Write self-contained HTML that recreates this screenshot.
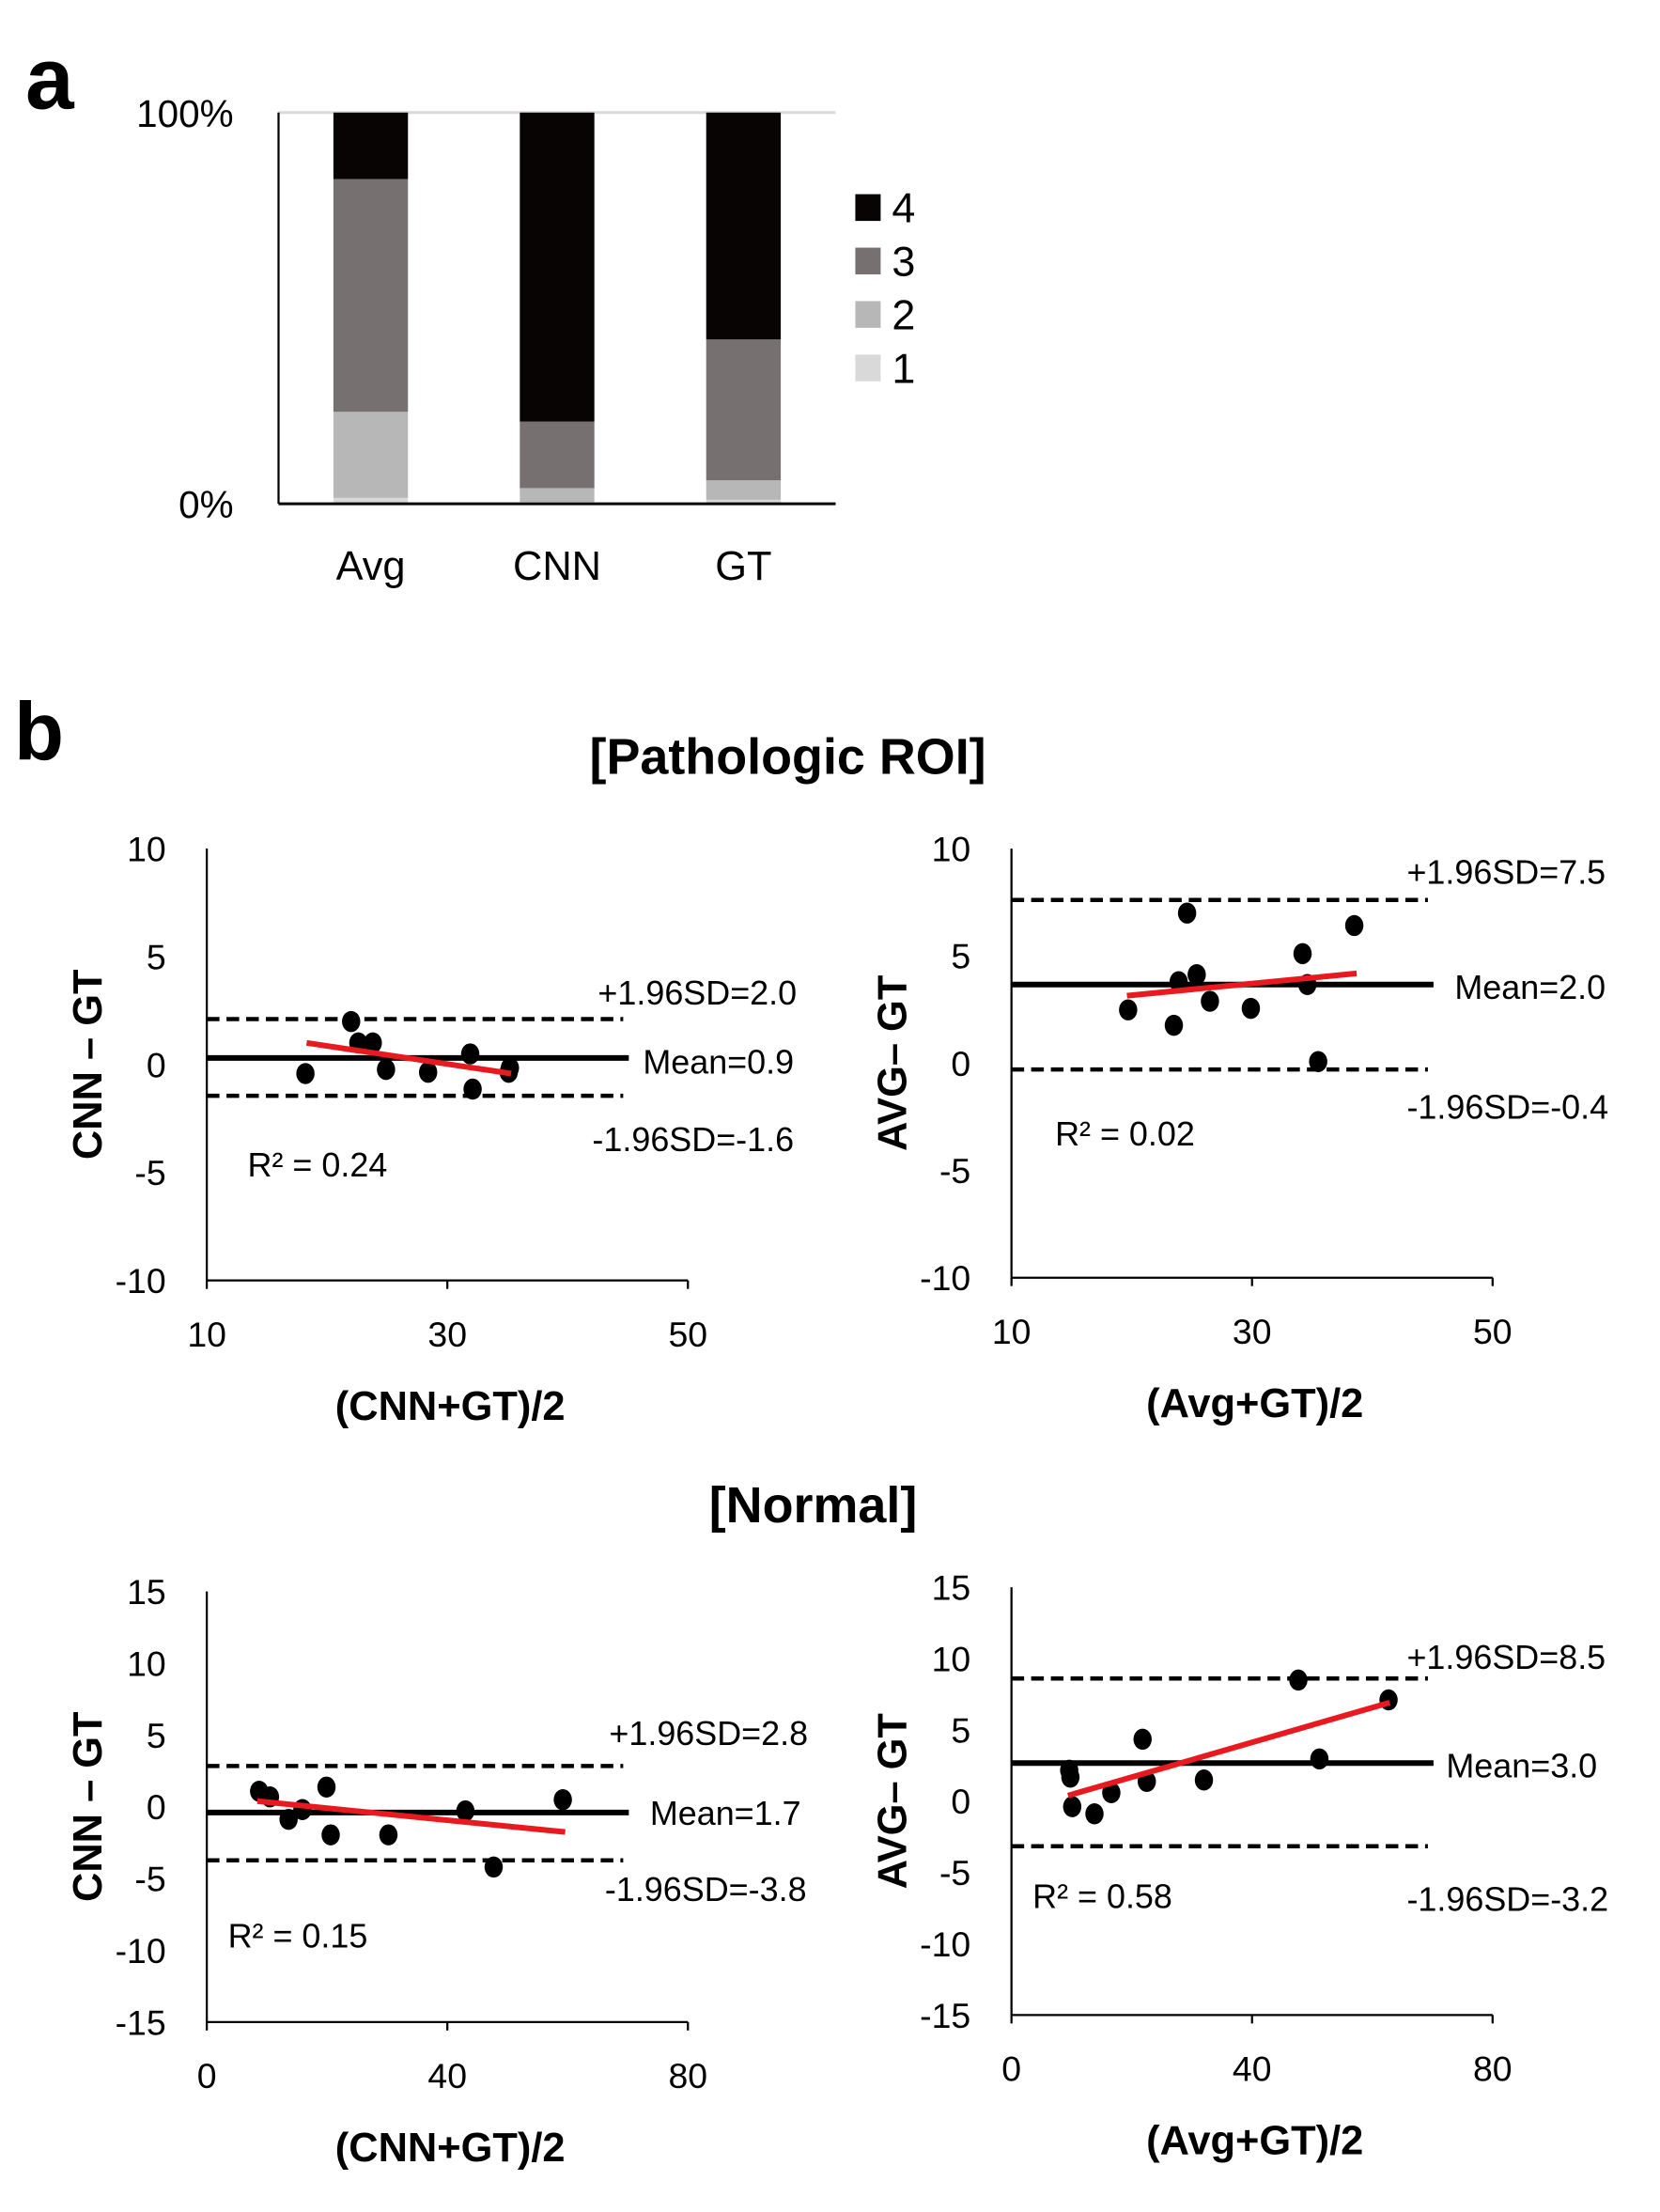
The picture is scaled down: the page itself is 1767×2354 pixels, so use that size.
<!DOCTYPE html>
<html><head><meta charset="utf-8"><style>
html,body{margin:0;padding:0;background:#fff;}
svg{display:block;font-family:"Liberation Sans",sans-serif;}
</style></head><body>
<svg id="fig" width="1767" height="2354" viewBox="0 0 1180 1572" xmlns="http://www.w3.org/2000/svg">
<text x="18" y="77" font-size="62" font-weight="bold">a</text>
<text x="10" y="540" font-size="58" font-weight="bold">b</text>
<text x="560" y="550" font-size="36" font-weight="bold" text-anchor="middle">[Pathologic ROI]</text>
<text x="578" y="1082" font-size="36" font-weight="bold" text-anchor="middle">[Normal]</text>
<g id="bar"></g>
<g id="p1"></g><g id="p2"></g><g id="p3"></g><g id="p4"></g>
</svg>
<script>
// ---- Panel a data ----
const barCategories = ['Avg','CNN','GT'];
const grade1 = [1.5, 0.5, 1];
const grade2 = [22, 3.5, 5];
const grade3 = [59.5, 17, 36];
const grade4 = [17, 79, 58];
const legendLabels = ['4','3','2','1'];

// ---- Panel b data ----
const p1X = [18.2,22.0,22.6,23.8,24.9,28.4,31.9,32.1,35.1,35.2];
const p1Y = [-0.42,1.99,1.0,1.0,-0.23,-0.36,0.49,-1.14,-0.36,-0.16];
const p1Lines = [0.3, 2.1, -1.45];
const p1Fit = [18.3,1.0,35.3,-0.42];
const p1Labels = ['+1.96SD=2.0','Mean=0.9','-1.96SD=-1.6','R² = 0.24'];

const p2X = [19.7,23.5,23.9,24.6,25.4,26.5,29.9,34.2,34.6,35.5,38.5];
const p2Y = [2.48,1.76,3.79,6.99,4.12,2.88,2.55,5.10,3.66,0.07,6.41];
const p2Lines = [3.66, 7.6, -0.3];
const p2Fit = [19.6,3.14,38.7,4.18];
const p2Labels = ['+1.96SD=7.5','Mean=2.0','-1.96SD=-0.4','R² = 0.02'];

const p3X = [8.7,10.5,13.6,15.9,19.9,20.6,30.2,43.0,47.7,59.2];
const p3Y = [1.08,0.69,-0.88,-0.2,1.37,-1.96,-1.96,-0.29,-4.2,0.49];
const p3Lines = [-0.4, 2.84, -3.73];
const p3Fit = [8.4,0.39,59.6,-1.76];
const p3Labels = ['+1.96SD=2.8','Mean=1.7','-1.96SD=-3.8','R² = 0.15'];

const p4X = [9.6,9.8,10.1,13.8,16.6,21.8,22.5,32.0,47.7,51.2,62.7];
const p4Y = [2.17,1.68,-0.39,-0.89,0.59,4.34,1.38,1.48,8.49,2.96,7.1];
const p4Lines = [2.67, 8.6, -3.16];
const p4Fit = [9.4,0.39,62.9,6.91];
const p4Labels = ['+1.96SD=8.5','Mean=3.0','-1.96SD=-3.2','R² = 0.58'];

const NS='http://www.w3.org/2000/svg';
function mk(parent,tag,attrs,txt){const e=document.createElementNS(NS,tag);for(const k in attrs)e.setAttribute(k,attrs[k]);if(txt!==undefined)e.textContent=txt;parent.appendChild(e);return e;}

// ---- draw bar chart ----
(function(){
  const g=document.getElementById('bar');
  const top=80,bot=358,left=198,right=594;
  const yS=v=>bot-(v/100)*(bot-top);
  const centers=[263.5,396,528.5], bw=53;
  const colors=['#d9d9d9','#b7b7b7','#767170','#070403'];
  const series=[grade1,grade2,grade3,grade4];
  let l=mk(g,'line',{x1:left,y1:top,x2:right,y2:top,stroke:'#d9d9d9','stroke-width':2});
  
  
  barCategories.forEach((c,i)=>{
    let cum=0;
    series.forEach((s,k)=>{
      const y0=yS(cum),y1=yS(cum+s[i]);cum+=s[i];
      const r=mk(g,'rect',{x:centers[i]-bw/2,y:y1,width:bw,height:y0-y1,fill:colors[k]});
      
      
    });
    const t=mk(g,'text',{x:centers[i],y:412,'font-size':29,'text-anchor':'middle'},c);
    
    
  });
  l=mk(g,'line',{x1:left,y1:top,x2:left,y2:bot,stroke:'#000','stroke-width':1.5});
  
  
  l=mk(g,'line',{x1:left,y1:bot,x2:right,y2:bot,stroke:'#000','stroke-width':2});
  
  
  let t=mk(g,'text',{x:166,y:90,'font-size':27,'text-anchor':'end'},'100%');
  
  
  t=mk(g,'text',{x:166,y:368,'font-size':27,'text-anchor':'end'},'0%');
  
  
  const lc=['#070403','#767170','#b7b7b7','#d9d9d9'];
  legendLabels.forEach((lab,i)=>{
    const y=138+i*38;
    const r=mk(g,'rect',{x:608,y:y,width:18,height:19,fill:lc[i]});
    
    
    const tt=mk(g,'text',{x:634,y:y+20,'font-size':30},lab);
    
    
  });
})();

// ---- Bland-Altman panels ----
function panel(id,cfg,xs,ys,lines,fit,labels){
  const g=document.getElementById(id);
  const {ax,top,bot,right,xmin,xmax,ymin,ymax,yticks,xticks,lineEnd,yTitle,xTitle,lab}=cfg;
  const X=v=>ax+(v-xmin)/(xmax-xmin)*(right-ax);
  const Y=v=>bot-(v-ymin)/(ymax-ymin)*(bot-top);
  let e=mk(g,'line',{x1:ax,y1:top,x2:ax,y2:bot,stroke:'#000','stroke-width':1.5});
  
  
  e=mk(g,'line',{x1:ax,y1:bot,x2:right,y2:bot,stroke:'#000','stroke-width':1.5});
  
  
  yticks.forEach(v=>{
    const t=mk(g,'text',{x:ax-29,y:Y(v)+9,'font-size':25,'text-anchor':'end'},String(v));
    
    
  });
  xticks.forEach(v=>{
    const tk=mk(g,'line',{x1:X(v),y1:bot,x2:X(v),y2:bot+6,stroke:'#000','stroke-width':1.5});
    
    
    const t=mk(g,'text',{x:X(v),y:bot+47,'font-size':25,'text-anchor':'middle'},String(v));
    
    
  });
  e=mk(g,'line',{x1:ax,y1:Y(lines[0]),x2:lineEnd+4,y2:Y(lines[0]),stroke:'#000','stroke-width':4});
  
  
  e=mk(g,'line',{x1:ax,y1:Y(lines[1]),x2:lineEnd,y2:Y(lines[1]),stroke:'#000','stroke-width':3,'stroke-dasharray':'9 5'});
  
  
  e=mk(g,'line',{x1:ax,y1:Y(lines[2]),x2:lineEnd,y2:Y(lines[2]),stroke:'#000','stroke-width':3,'stroke-dasharray':'9 5'});
  
  
  xs.forEach((x,i)=>{
    const c=mk(g,'ellipse',{cx:X(x),cy:Y(ys[i]),rx:6.5,ry:7.5,fill:'#000'});
    
    
  });
  e=mk(g,'line',{x1:X(fit[0]),y1:Y(fit[1]),x2:X(fit[2]),y2:Y(fit[3]),stroke:'#e8191f','stroke-width':4});
  
  
  const names=['upper-limit-label','mean-label','lower-limit-label','r-squared-label'];
  labels.forEach((s,i)=>{
    const t=mk(g,'text',{x:lab[i][0],y:lab[i][1],'font-size':24},s);
    
    
  });
  let t=mk(g,'text',{x:0,y:0,'font-size':29,'font-weight':'bold','text-anchor':'middle',transform:`translate(${ax-75},${(top+bot)/2}) rotate(-90)`},yTitle);
  
  
  t=mk(g,'text',{x:(ax+right)/2+2,y:bot+99,'font-size':29,'font-weight':'bold','text-anchor':'middle'},xTitle);
  
  
}
panel('p1',{ax:147,top:603,bot:910,right:489,xmin:10,xmax:50,ymin:-10,ymax:10,yticks:[10,5,0,-5,-10],xticks:[10,30,50],lineEnd:443,yTitle:'CNN – GT',xTitle:'(CNN+GT)/2',
  lab:[[425,714],[457,763],[421,818],[176,836]]},p1X,p1Y,p1Lines,p1Fit,p1Labels);
panel('p2',{ax:719,top:603,bot:908,right:1061,xmin:10,xmax:50,ymin:-10,ymax:10,yticks:[10,5,0,-5,-10],xticks:[10,30,50],lineEnd:1015,yTitle:'AVG– GT',xTitle:'(Avg+GT)/2',
  lab:[[1000,628],[1034,710],[1000,795],[750,814]]},p2X,p2Y,p2Lines,p2Fit,p2Labels);
panel('p3',{ax:147,top:1131,bot:1437,right:489,xmin:0,xmax:80,ymin:-15,ymax:15,yticks:[15,10,5,0,-5,-10,-15],xticks:[0,40,80],lineEnd:443,yTitle:'CNN – GT',xTitle:'(CNN+GT)/2',
  lab:[[433,1240],[462,1297],[430,1351],[162,1384]]},p3X,p3Y,p3Lines,p3Fit,p3Labels);
panel('p4',{ax:719,top:1128,bot:1432,right:1061,xmin:0,xmax:80,ymin:-15,ymax:15,yticks:[15,10,5,0,-5,-10,-15],xticks:[0,40,80],lineEnd:1015,yTitle:'AVG– GT',xTitle:'(Avg+GT)/2',
  lab:[[1000,1186],[1028,1263],[1000,1358],[734,1356]]},p4X,p4Y,p4Lines,p4Fit,p4Labels);
</script>
</body></html>
